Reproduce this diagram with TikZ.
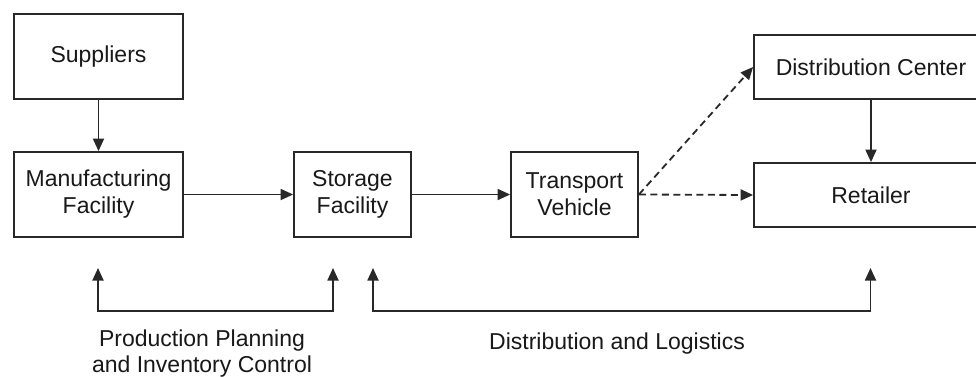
\documentclass[tikz,border=0pt]{standalone}
\usepackage{fontspec}
\setmainfont{Liberation Sans}
\usetikzlibrary{arrows.meta}
\definecolor{linecol}{RGB}{40,40,40}
\definecolor{txtcol}{RGB}{25,25,25}
\begin{document}
\begin{tikzpicture}[x=1pt,y=-1pt,
  tip/.tip={Triangle[length=12.5pt,width=11pt]},
  box/.style={draw=linecol,line width=1.8pt,fill=white,inner sep=0pt,align=center,
    text=txtcol,font=\fontsize{23}{27}\selectfont},
  conn/.style={draw=linecol,line width=1.8pt,-tip},
  dconn/.style={conn,dash pattern=on 7pt off 4.5pt},
  bracket/.style={draw=linecol,line width=1.8pt,tip-tip},
  lbl/.style={align=center,inner sep=0pt,text=txtcol,font=\fontsize{23}{26}\selectfont}]
\useasboundingbox (0,0) rectangle (976,376);
\fill[white] (0,0) rectangle (976,376);
% boxes
\node[box,minimum width=169pt,minimum height=85pt] (sup) at (98.5,56.5) {Suppliers};
\node[box,minimum width=169pt,minimum height=85pt] (man) at (98.5,194.5) {Manufacturing\\Facility};
\node[box,minimum width=117pt,minimum height=85pt] (sto) at (352.5,194.5) {Storage\\Facility};
\node[box,minimum width=127pt,minimum height=85pt] (tra) at (574.5,194.5) {Transport\\Vehicle};
\node[box,minimum width=234pt,minimum height=64pt] (dc) at (871,67) {Distribution Center};
\node[box,minimum width=234pt,minimum height=64pt] (ret) at (871,195) {Retailer};
% connectors
\draw[conn] (sup.south) -- (man.north);
\draw[conn] (man.east) -- (sto.west);
\draw[conn] (sto.east) -- (tra.west);
\draw[dconn] (tra.east) -- (dc.west);
\draw[dconn] (tra.east) -- (ret.west);
\draw[conn] (dc.south) -- (ret.north);
% bottom brackets
\coordinate (p1) at (98,268);
\coordinate (q1) at (98,311);
\coordinate (q2) at (333,311);
\coordinate (p2) at (333,268);
\coordinate (p3) at (373,268);
\coordinate (q3) at (373,311);
\coordinate (q4) at (870.5,311);
\coordinate (p4) at (870.5,268);
\draw[bracket] (p1) -- (q1) -- (q2) -- (p2);
\draw[bracket] (p3) -- (q3) -- (q4) -- (p4);
\node[lbl] (ppic) at (202,354) {Production Planning\\and Inventory Control};
\node[lbl,anchor=base] (dl) at (617,349) {Distribution and Logistics};
\end{tikzpicture}
\end{document}
